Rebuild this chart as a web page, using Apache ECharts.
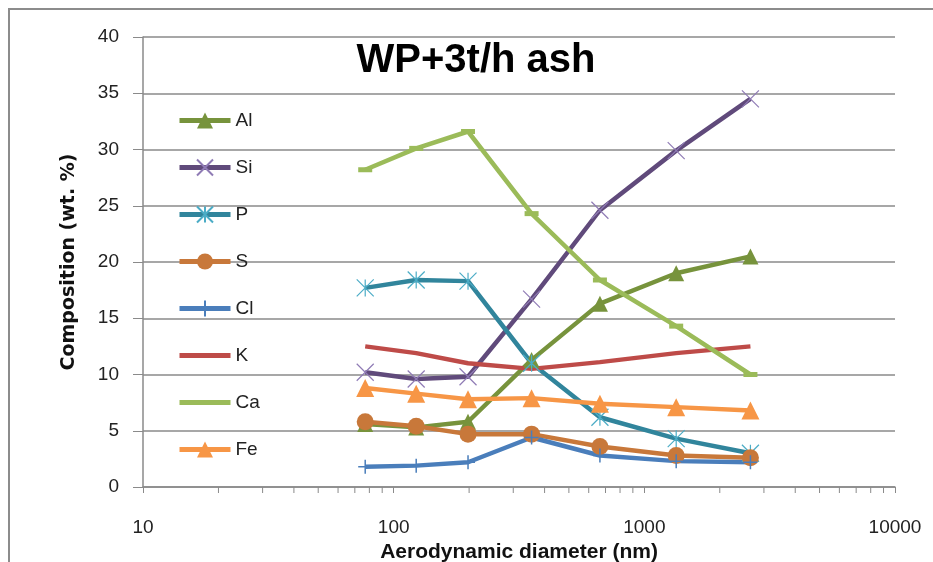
<!DOCTYPE html>
<html>
<head>
<meta charset="utf-8">
<script src="https://cdn.jsdelivr.net/npm/echarts@6/dist/echarts.min.js"></script>
<style>
  html, body { margin: 0; padding: 0; background: #fff; }
  #chart { width: 933px; height: 562px; }
</style>
</head>
<body>
<div id="chart"></div>
<script>
// aerodynamic diameter (nm) of each stage
var diameters = [77, 123, 198, 355, 665, 1340, 2650];

// composition, wt. %
var alValues = [5.6, 5.3, 5.8, 11.3, 16.3, 19.0, 20.5];
var siValues = [10.2, 9.6, 9.8, 16.7, 24.6, 29.9, 34.5];
var pValues  = [17.7, 18.4, 18.3, 11.0, 6.2, 4.3, 3.0];
var sValues  = [5.8, 5.4, 4.7, 4.7, 3.6, 2.8, 2.6];
var clValues = [1.8, 1.9, 2.2, 4.4, 2.8, 2.3, 2.2];
var kValues  = [12.5, 11.9, 11.0, 10.5, 11.1, 11.9, 12.5];
var caValues = [28.2, 30.1, 31.6, 24.3, 18.4, 14.3, 10.0];
var feValues = [8.8, 8.3, 7.8, 7.9, 7.4, 7.1, 6.8];

var yTicks = [0, 5, 10, 15, 20, 25, 30, 35, 40];
var xTicks = [10, 100, 1000, 10000];

function pairs(vals) {
    var out = [];
    for (var i = 0; i < diameters.length; i++) {
        out.push([diameters[i], vals[i]]);
    }
    return out;
}

var labelFont = 'Liberation Sans';

// 一条折线的公共样式
function makeSeries(name, vals, lineColor, symbol, size, itemStyle) {
    return {
        name: name,
        type: 'line',
        data: pairs(vals),
        color: lineColor,
        symbol: symbol,
        symbolSize: size,
        showAllSymbol: true,
        lineStyle: { color: lineColor, width: 4.5 },
        itemStyle: itemStyle || { color: lineColor },
        emphasis: { disabled: true },
        animation: false
    };
}

var myChart = echarts.init(document.getElementById('chart'));

var option = {
    animation: false,
    grid: { left: 143, right: 38, top: 37, bottom: 75, outerBoundsMode: 'none', containLabel: false },
    legend: {
        orient: 'vertical',
        left: 172,
        top: 106,
        itemWidth: 51,
        itemHeight: 20,
        itemGap: 28,
        lineStyle: { width: 5 },
        textStyle: { fontFamily: labelFont, fontSize: 19, color: '#222' },
        data: ['Al', 'Si', 'P', 'S', 'Cl',
            { name: 'K', itemStyle: { opacity: 0 } },
            { name: 'Ca', itemStyle: { opacity: 0 } },
            'Fe']
    },
    xAxis: {
        type: 'log',
        logBase: 10,
        min: xTicks[0],
        max: xTicks[xTicks.length - 1],
        name: 'Aerodynamic diameter (nm)',
        nameLocation: 'middle',
        nameGap: 49,
        nameTextStyle: { fontFamily: labelFont, fontWeight: 'bold', fontSize: 21, color: '#111' },
        axisLine: { show: true, lineStyle: { color: '#8a8a8a', width: 1.5 } },
        axisTick: { show: true, inside: false, length: 6, lineStyle: { color: '#8a8a8a' } },
        axisLabel: {
            margin: 31, fontFamily: labelFont, fontSize: 19, color: '#222',
            formatter: function (v) { return String(Math.round(v)); }
        },
        splitLine: { show: false }
    },
    yAxis: {
        type: 'value',
        min: yTicks[0],
        max: yTicks[yTicks.length - 1],
        interval: 5,
        name: 'Composition (wt. %)',
        nameLocation: 'middle',
        nameGap: 64,
        nameTextStyle: { fontFamily: 'DejaVu Sans', fontWeight: 'bold', fontSize: 19, color: '#111' },
        axisLine: { show: true, lineStyle: { color: '#8a8a8a', width: 1.5 } },
        axisTick: { show: true, length: 10, lineStyle: { color: '#8a8a8a' } },
        axisLabel: { margin: 24, fontFamily: labelFont, fontSize: 19, color: '#222' },
        splitLine: { show: true, lineStyle: { color: '#8a8a8a', width: 1.5 } }
    },
    graphic: [
        {
            type: 'rect',
            shape: { x: 9, y: 9, width: 960, height: 600 },
            style: { fill: 'none', stroke: '#8c8c8c', lineWidth: 2 },
            silent: true
        },
        {
            type: 'text',
            x: 476,
            y: 61,
            style: {
                text: 'WP+3t/h ash',
                font: 'bold 40px "Liberation Sans"',
                fill: '#000',
                textAlign: 'center',
                textVerticalAlign: 'middle'
            },
            silent: true
        }
    ],
    series: [
        makeSeries('Al', alValues, '#77933C', 'triangle', 16),
        makeSeries('Si', siValues, '#604A7B', 'path://M0,0L10,10M10,0L0,10', 17,
            { color: 'rgba(0,0,0,0)', borderColor: '#8F7BB5', borderWidth: 1.2 }),
        makeSeries('P', pValues, '#31859C', 'path://M0,0L10,10M10,0L0,10M5,0L5,10', 17,
            { color: 'rgba(0,0,0,0)', borderColor: '#4BACC6', borderWidth: 1.2 }),
        makeSeries('S', sValues, '#C8783A', 'circle', 17),
        makeSeries('Cl', clValues, '#4A7EBB', 'path://M5,0L5,10M0,5L10,5', 14,
            { color: 'rgba(0,0,0,0)', borderColor: '#4A7EBB', borderWidth: 1.5 }),
        makeSeries('K', kValues, '#BE4B48', 'none', 0),
        makeSeries('Ca', caValues, '#9BBB59', 'rect', [14, 5]),
        makeSeries('Fe', feValues, '#F79646', 'triangle', 18)
    ]
};

myChart.setOption(option);

// x轴的次刻度 2..9，位置由坐标轴换算
(function () {
    var y0 = myChart.convertToPixel({ yAxisIndex: 0 }, 0);
    var ticks = [];
    for (var d = 0; d < xTicks.length - 1; d++) {
        for (var k = 2; k <= 9; k++) {
            var px = myChart.convertToPixel({ xAxisIndex: 0 }, xTicks[d] * k);
            ticks.push({
                type: 'line',
                shape: { x1: px, y1: y0, x2: px, y2: y0 + 6 },
                style: { stroke: '#8a8a8a', lineWidth: 1 },
                silent: true
            });
        }
    }
    myChart.setOption({ graphic: option.graphic.concat(ticks) });
})();

window.addEventListener('resize', function () {
    myChart.resize();
});
</script>
</body>
</html>
